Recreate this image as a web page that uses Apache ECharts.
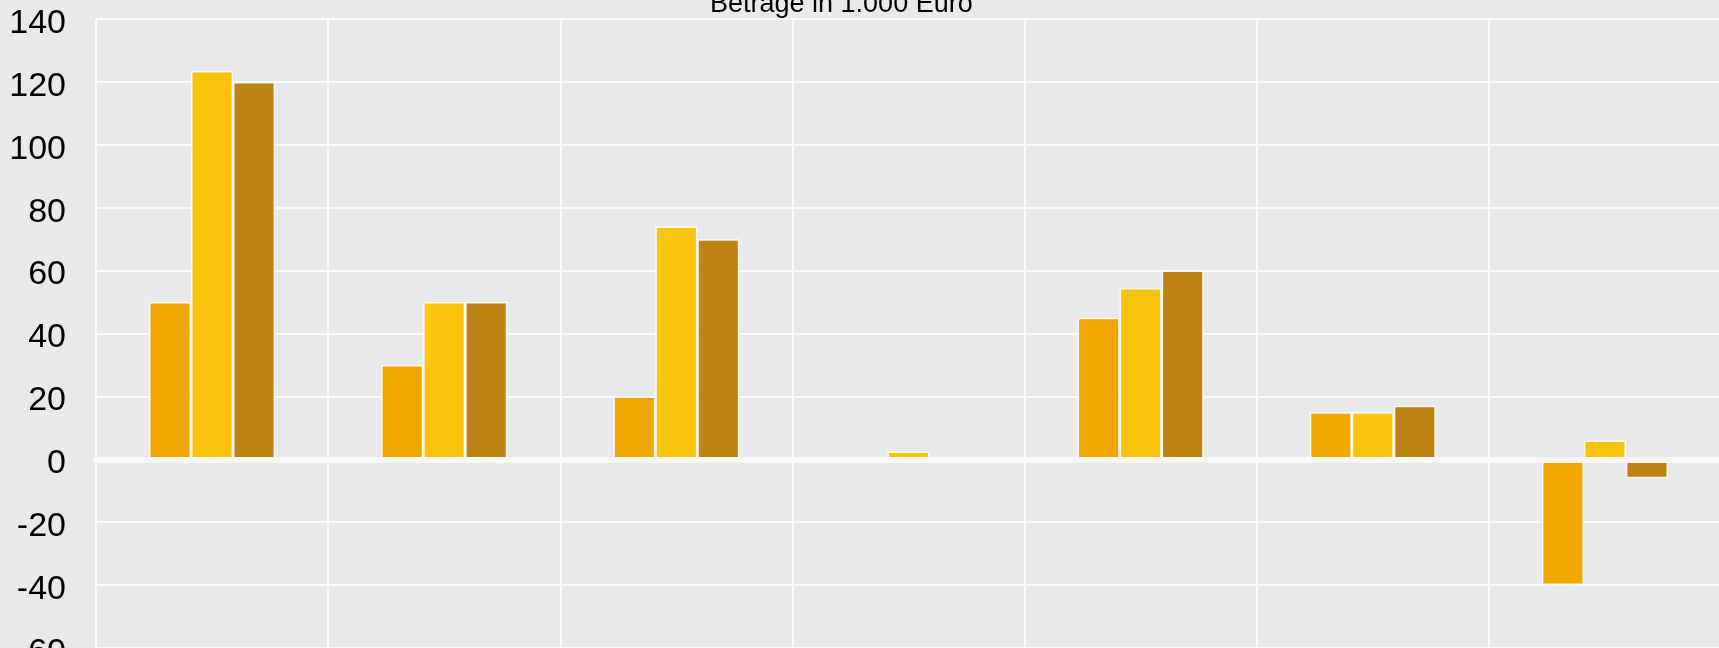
<!DOCTYPE html>
<html>
<head>
<meta charset="utf-8">
<script src="https://cdn.jsdelivr.net/npm/echarts@6/dist/echarts.min.js"></script>
<style>
  html, body { margin: 0; padding: 0; background: #e8e9eb; }
  #chart { width: 1719px; height: 648px; }
</style>
</head>
<body>
<div id="chart"></div>
<script>
/* ─── data ─── */
const categories = ["A", "B", "C", "D", "E", "F", "G"];
const seriesNames = ["Reihe 1", "Reihe 2", "Reihe 3"];
const valuesOrange = [50, 30, 20, 0, 45, 15, -40];
const valuesYellow = [123.5, 50, 74, 2.5, 54.5, 15, 6];
const valuesBrown = [120, 50, 70, 0, 60, 17, -6];
const yTicks = { min: -60, max: 140, interval: 20 };
const titleText = "Beträge in 1.000 Euro";

const COLORS = ["#f2a600", "#fac30d", "#bf8314"];
const FONT = "'Liberation Sans', Arial, sans-serif";

const chart = echarts.init(document.getElementById("chart"), null, { renderer: "canvas" });

const bar = (name, data, color) => ({
  type: "bar",
  name,
  data,
  barWidth: 42,
  barGap: "0%",
  itemStyle: { color, borderColor: "rgba(255,255,255,0.85)", borderWidth: 1.5 },
});

chart.setOption({
  backgroundColor: "#e8e9eb",
  animation: false,
  textStyle: { fontFamily: FONT },
  grid: {
    left: 96,
    right: -2,
    top: 19,
    bottom: 0,
    containLabel: false,
    outerBoundsMode: "none",
  },
  graphic: [
    {
      type: "text",
      left: 710,
      top: -9,
      style: {
        text: titleText,
        fontSize: 27,
        fontFamily: FONT,
        fill: "#000",
      },
    },
  ],
  xAxis: {
    type: "category",
    data: categories,
    boundaryGap: true,
    z: 5,
    axisLine: { show: true, onZero: true, lineStyle: { color: "#f7f7f7", width: 6 } },
    axisTick: { show: false },
    axisLabel: { show: false },
    splitLine: { show: true, lineStyle: { color: "#fafafa", width: 2 } },
  },
  yAxis: {
    type: "value",
    min: yTicks.min,
    max: yTicks.max,
    interval: yTicks.interval,
    axisLine: { show: false },
    axisTick: { show: false },
    axisLabel: {
      color: "#000",
      fontSize: 34,
      fontFamily: FONT,
      margin: 30,
      verticalAlign: "top",
      lineHeight: 9,
    },
    splitLine: { lineStyle: { color: "#fafafa", width: 2 } },
  },
  series: [
    bar(seriesNames[0], valuesOrange, COLORS[0]),
    bar(seriesNames[1], valuesYellow, COLORS[1]),
    bar(seriesNames[2], valuesBrown, COLORS[2]),
  ],
});
</script>
</body>
</html>
